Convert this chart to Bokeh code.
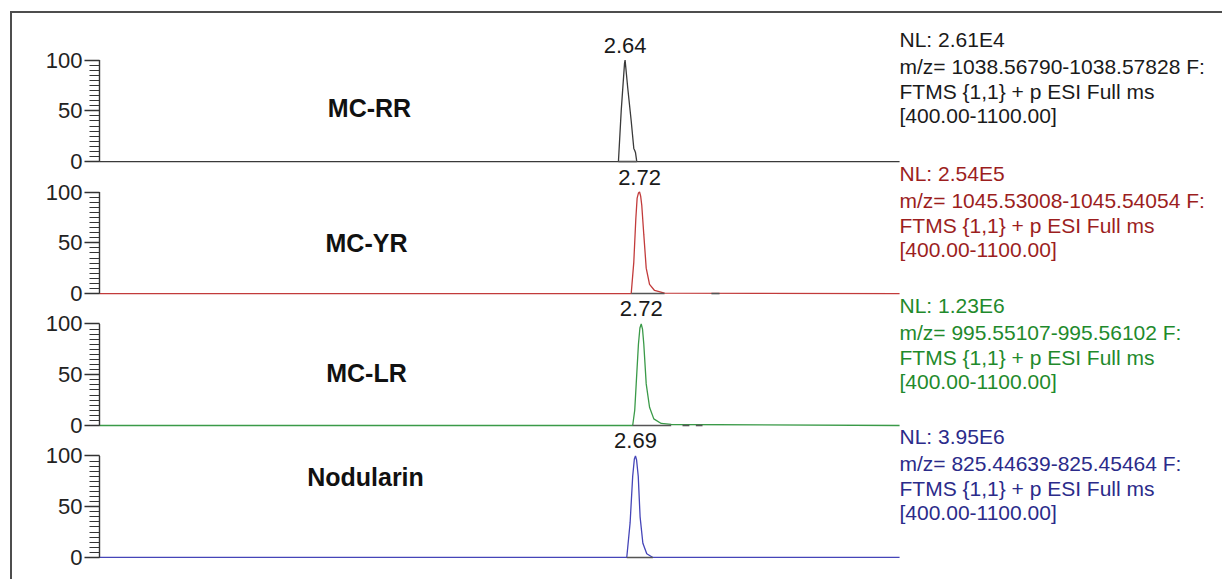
from bokeh.plotting import figure
from bokeh.models import Range1d, LinearAxis, FixedTicker, Label
from bokeh.layouts import column
from bokeh.embed import file_html
from bokeh.resources import INLINE

FONT = "Liberation Sans"

# ---------------- data ----------------
COMPOUNDS = ["MC-RR", "MC-YR", "MC-LR", "Nodularin"]
PEAK_LABELS = ["2.64", "2.72", "2.72", "2.69"]
NL_LABELS = ["NL: 2.61E4", "NL: 2.54E5", "NL: 1.23E6", "NL: 3.95E6"]
MZ_LABELS = ["m/z= 1038.56790-1038.57828 F:",
             "m/z= 1045.53008-1045.54054 F:",
             "m/z= 995.55107-995.56102 F:",
             "m/z= 825.44639-825.45464 F:"]
SCAN_LABEL = "FTMS {1,1}  + p ESI Full ms"
MASS_RANGE_LABEL = "[400.00-1100.00]"
Y_TICKS = [0, 50, 100]

RT_START, RT_END = -0.20, 4.12          # acquired retention-time window (min)

# extracted-ion chromatograms: retention time (min) / relative abundance (%)
RR_T = [-0.20, 2.602, 2.617, 2.635, 2.638, 2.652, 2.671, 2.685, 2.690, 2.694, 2.701, 4.12]
RR_I = [0, 0, 50, 97, 100, 73, 40, 13, 11, 9, 0, 0]

YR_T = [-0.20, 2.671, 2.685, 2.696, 2.703, 2.710, 2.716, 2.722, 2.728, 2.739, 2.752, 2.770, 2.797, 2.851, 4.12]
YR_I = [0, 0, 31, 74, 94, 99, 100, 96, 87, 58, 25, 9, 3, 0.4, 0]

LR_T = [-0.20, 2.679, 2.690, 2.698, 2.710, 2.718, 2.725, 2.732, 2.739, 2.752, 2.770, 2.793, 2.833, 2.887, 4.12]
LR_I = [0, 0, 15, 41, 80, 96, 100, 95, 80, 41, 18, 6.5, 2, 1, 0]

NOD_T = [-0.20, 2.647, 2.665, 2.679, 2.688, 2.694, 2.700, 2.709, 2.719, 2.734, 2.755, 2.788, 4.12]
NOD_I = [0, 0, 34, 80, 97, 100, 96, 80, 40, 14, 3.6, 0, 0]

# integration baselines (start, end) in min
RR_BASE = [(2.602, 2.701)]
YR_BASE = [(2.671, 2.851), (3.104, 3.148)]
LR_BASE = [(2.679, 2.887), (2.948, 2.985), (3.02, 3.056)]
NOD_BASE = [(2.647, 2.788)]

TRACES = [(RR_T, RR_I, RR_BASE), (YR_T, YR_I, YR_BASE),
          (LR_T, LR_I, LR_BASE), (NOD_T, NOD_I, NOD_BASE)]

# ---------------- styling / layout ----------------
LINE_COLORS = ["#3a3a3a", "#c23b3b", "#3a9a48", "#4545b8"]
TEXT_COLORS = ["#1a1a1a", "#9c1e1e", "#1f8a2c", "#2b2b8a"]
AXIS_COLOR = "#333333"

W, H = 1210, 556
FRAME_L = 85                 # canvas x of frame left
FRAME_B = 548                # canvas y of frame bottom (frame top = 0)
PX_PER_MIN = 185.2
PX_PER_PCT = 1.015
PANEL_OFFSET = [394, 264, 134, 4]      # stacking offset of each panel (% units)

NAME_POS = [(357, 94), (354, 229), (354, 359), (353, 463)]
TEXT_TOP = [26, 160, 292, 423]
LINE_STEPS = [0, 26.5, 51.5, 76]
TEXT_X = 887
PEAK_LABEL_GAP = 15          # px between 100 % line and label

x_view_start = RT_START - 2 / PX_PER_MIN
x_view_end = x_view_start + (W - FRAME_L) / PX_PER_MIN

p = figure(width=W, height=H,
           x_range=Range1d(x_view_start, x_view_end),
           y_range=Range1d(0, FRAME_B / PX_PER_PCT),
           output_backend="svg", toolbar_location=None,
           x_axis_location=None, y_axis_location=None,
           min_border_left=FRAME_L, min_border_right=0,
           min_border_top=0, min_border_bottom=H - FRAME_B,
           outline_line_color=None,
           background_fill_color="white", border_fill_color="white")
p.grid.visible = False
p.extra_x_ranges["px"] = Range1d(FRAME_L, W)
p.extra_y_ranges["pxy"] = Range1d(FRAME_B, 0)

major, minor, overrides = [], [], {}
for i in range(4):
    off = PANEL_OFFSET[i]
    t, inten, base = TRACES[i]
    p.line(t, [v + off for v in inten], line_color=LINE_COLORS[i], line_width=1.3)
    p.segment(x0=[b[0] for b in base], y0=[off] * len(base),
              x1=[b[1] for b in base], y1=[off] * len(base),
              line_color="#555555", line_width=1.6)
    # axis spine of this panel (0-100 %)
    p.segment(x0=[RT_START], y0=[off], x1=[RT_START], y1=[off + 100],
              line_color=AXIS_COLOR, line_width=1.4)
    for v in Y_TICKS:
        major.append(off + v)
        overrides[off + v] = str(v)
    minor.extend(off + v for v in range(0, 101, 5))

    # retention time label at apex
    apex = t[inten.index(max(inten))]
    p.add_layout(Label(x=apex, y=off + 100 + PEAK_LABEL_GAP / PX_PER_PCT, text=PEAK_LABELS[i],
                       text_align="center", text_baseline="alphabetic",
                       text_font=FONT, text_font_size="22px", text_color="#1a1a1a"))

    # compound name
    nx, ny = NAME_POS[i]
    p.add_layout(Label(x=nx, y=ny, x_range_name="px", y_range_name="pxy", text=COMPOUNDS[i],
                       text_align="center", text_baseline="middle",
                       text_font=FONT, text_font_size="25px", text_font_style="bold",
                       text_color="#111111"))

    # scan description
    lines = [NL_LABELS[i], MZ_LABELS[i], SCAN_LABEL, MASS_RANGE_LABEL]
    for line, step in zip(lines, LINE_STEPS):
        p.add_layout(Label(x=TEXT_X, y=TEXT_TOP[i] + step, x_range_name="px", y_range_name="pxy",
                           text=line, text_align="left", text_baseline="alphabetic",
                           text_font=FONT, text_font_size="21px", text_color=TEXT_COLORS[i]))

ax = LinearAxis(ticker=FixedTicker(ticks=major, minor_ticks=minor),
                major_label_overrides=overrides)
ax.axis_line_color = None
ax.major_tick_out = 13
ax.major_tick_in = 2
ax.minor_tick_out = 8
ax.minor_tick_in = 2
ax.major_tick_line_color = AXIS_COLOR
ax.major_tick_line_width = 1.3
ax.minor_tick_line_color = AXIS_COLOR
ax.minor_tick_line_width = 1.1
ax.major_label_standoff = 2
ax.major_label_text_font = FONT
ax.major_label_text_font_size = "22px"
ax.major_label_text_color = "#222222"
p.add_layout(ax, "left")

layout = column(p, styles={"border-top": "2px solid #4d4d4d",
                           "border-left": "2px solid #4d4d4d",
                           "margin-top": "11px", "margin-left": "10px",
                           "padding-bottom": "10px"})

open("out.html", "w").write(file_html(layout, INLINE))
